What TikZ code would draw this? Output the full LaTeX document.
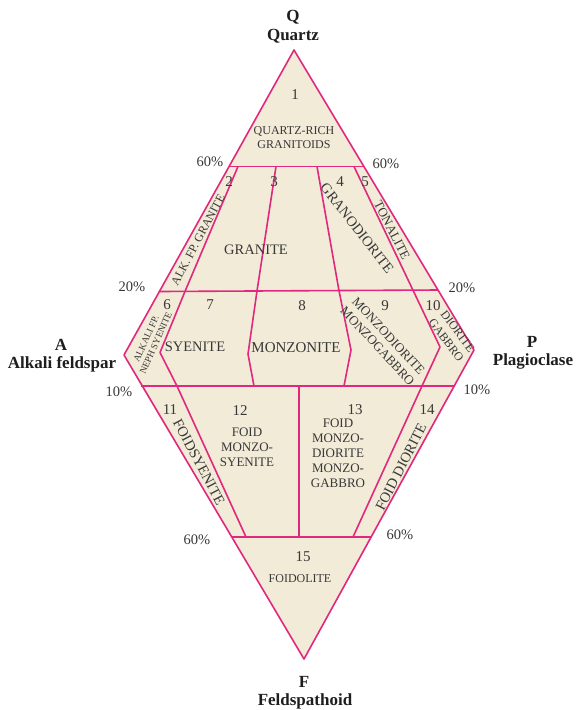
\documentclass[tikz,border=0pt]{standalone}
\usepackage{fontspec}
\setmainfont{Liberation Serif}
\definecolor{edgec}{HTML}{E0287E}
\definecolor{fillc}{HTML}{F2EBD8}
\definecolor{txtc}{HTML}{383838}
\definecolor{headc}{HTML}{1E1E1E}
\begin{document}
\begin{tikzpicture}[x=1pt,y=-1pt,line join=round,
  bnd/.style={draw=edgec,line width=1.6pt},
  num/.style={text=txtc,inner sep=0pt,font=\fontsize{15}{17}\selectfont},
  pct/.style={text=txtc,inner sep=0pt,font=\fontsize{14.5}{16}\selectfont},
  lbl/.style={text=txtc,inner sep=0pt,align=center,font=\fontsize{12}{14.5}\selectfont},
  big/.style={text=txtc,inner sep=0pt,align=center,font=\fontsize{14.5}{16}\selectfont},
  mid/.style={text=txtc,inner sep=0pt,align=center,font=\fontsize{13}{15}\selectfont},
  small/.style={text=txtc,inner sep=0pt,align=center,font=\fontsize{9.5}{10.5}\selectfont},
  head/.style={text=headc,inner sep=0pt,align=center,font=\bfseries\fontsize{17}{19}\selectfont}]
\useasboundingbox (0,0) rectangle (580,710);
% outer vertices
\coordinate (Q) at (294,50);
\coordinate (QR) at (364,166.5);
\coordinate (R20) at (438,290);
\coordinate (P) at (474,350);
\coordinate (R10) at (455,386);
\coordinate (BR) at (372,537);
\coordinate (F) at (304,659);
\coordinate (BL) at (232,537);
\coordinate (L10) at (141,386);
\coordinate (A) at (124,355);
\coordinate (L20) at (160,291.5);
\coordinate (QL) at (229.5,166.5);
\fill[fillc] (Q)--(QR)--(R20)--(P)--(R10)--(BR)--(F)--(BL)--(L10)--(A)--(L20)--(QL)--cycle;
% interior line points
\coordinate (a1) at (238,166.5);
\coordinate (a2) at (185,291.4);
\coordinate (a3) at (160,352.5);
\coordinate (a4) at (177,386);
\coordinate (a5) at (246,537);
\coordinate (b1) at (276,166.5);
\coordinate (b2) at (257,291);
\coordinate (b3) at (248,354);
\coordinate (b4) at (254,386);
\coordinate (c1) at (317,166.5);
\coordinate (c2) at (339,290.7);
\coordinate (c3) at (351,350);
\coordinate (c4) at (344,386);
\coordinate (d1) at (354,166.5);
\coordinate (d2) at (413,290.2);
\coordinate (d3) at (440,347);
\coordinate (d4) at (422,386);
\coordinate (d5) at (353,537);
\coordinate (e1) at (299,386);
\coordinate (e2) at (299,537);
\draw[bnd] (QL)--(QR);
\draw[bnd] (L20)--(R20);
\draw[bnd] (L10)--(R10);
\draw[bnd] (BL)--(BR);
\draw[bnd] (a1)--(a2)--(a3)--(a4)--(a5);
\draw[bnd] (b1)--(b2)--(b3)--(b4);
\draw[bnd] (c1)--(c2)--(c3)--(c4);
\draw[bnd] (d1)--(d2)--(d3)--(d4)--(d5);
\draw[bnd] (e1)--(e2);
\draw[bnd] (Q)--(P)--(F)--(A)--cycle;
% headings
\node[head] (hQ) at (293,17) {Q};
\node[head] (hQt) at (293,36) {Quartz};
\node[head] (hA) at (61,345) {A};
\node[head] (hAt) at (62,364) {Alkali feldspar};
\node[head] (hP) at (532,342) {P};
\node[head] (hPt) at (533,361) {Plagioclase};
\node[head] (hF) at (304,682) {F};
\node[head] (hFt) at (305,701) {Feldspathoid};
% percentages
\node[pct] (p1) at (210,162) {60\%};
\node[pct] (p2) at (386,164) {60\%};
\node[pct] (p3) at (132,287) {20\%};
\node[pct] (p4) at (462,288) {20\%};
\node[pct] (p5) at (119,392) {10\%};
\node[pct] (p6) at (477,390) {10\%};
\node[pct] (p7) at (197,540) {60\%};
\node[pct] (p8) at (400,535) {60\%};
% numbers
\node[num] (n1) at (295,95) {1};
\node[num] (n2) at (229,182) {2};
\node[num] (n3) at (274,182) {3};
\node[num] (n4) at (340,182) {4};
\node[num] (n5) at (365,182) {5};
\node[num] (n6) at (167,305) {6};
\node[num] (n7) at (210,305) {7};
\node[num] (n8) at (302,306) {8};
\node[num] (n9) at (385,306) {9};
\node[num] (n10) at (433,306) {10};
\node[num] (n11) at (170,410) {11};
\node[num] (n12) at (240,411) {12};
\node[num] (n13) at (355,410) {13};
\node[num] (n14) at (427,410) {14};
\node[num] (n15) at (303,557) {15};
% field names
\node[lbl] (f1) at (294,137.5) {QUARTZ-RICH\\GRANITOIDS};
\node[lbl,rotate=62] (f2) at (198,240) {ALK. FP. GRANITE};
\node[big] (f3) at (256,250) {GRANITE};
\node[big,rotate=-52] (f4) at (357,228) {GRANODIORITE};
\node[mid,rotate=-63] (f5) at (392,230) {TONALITE};
\node[small,rotate=66] (f6) at (151,341) {ALKALI FP.\\NEPH SYENITE};
\node[big] (f7) at (195,347) {SYENITE};
\node[big,font=\fontsize{15}{17}\selectfont] (f8) at (296,348) {MONZONITE};
\node[mid,rotate=-47] (f9) at (383,341) {MONZODIORITE\\MONZOGABBRO};
\node[lbl,rotate=-53] (f10) at (452,336) {DIORITE\\GABBRO};
\node[big,rotate=-62] (f11) at (199,462) {FOIDSYENITE};
\node[mid] (f12) at (247,447) {FOID\\MONZO-\\SYENITE};
\node[mid] (f13) at (338,453) {FOID\\MONZO-\\DIORITE\\MONZO-\\GABBRO};
\node[big,rotate=63] (f14) at (401,467) {FOID DIORITE};
\node[lbl] (f15) at (300,579) {FOIDOLITE};
\end{tikzpicture}
\end{document}
